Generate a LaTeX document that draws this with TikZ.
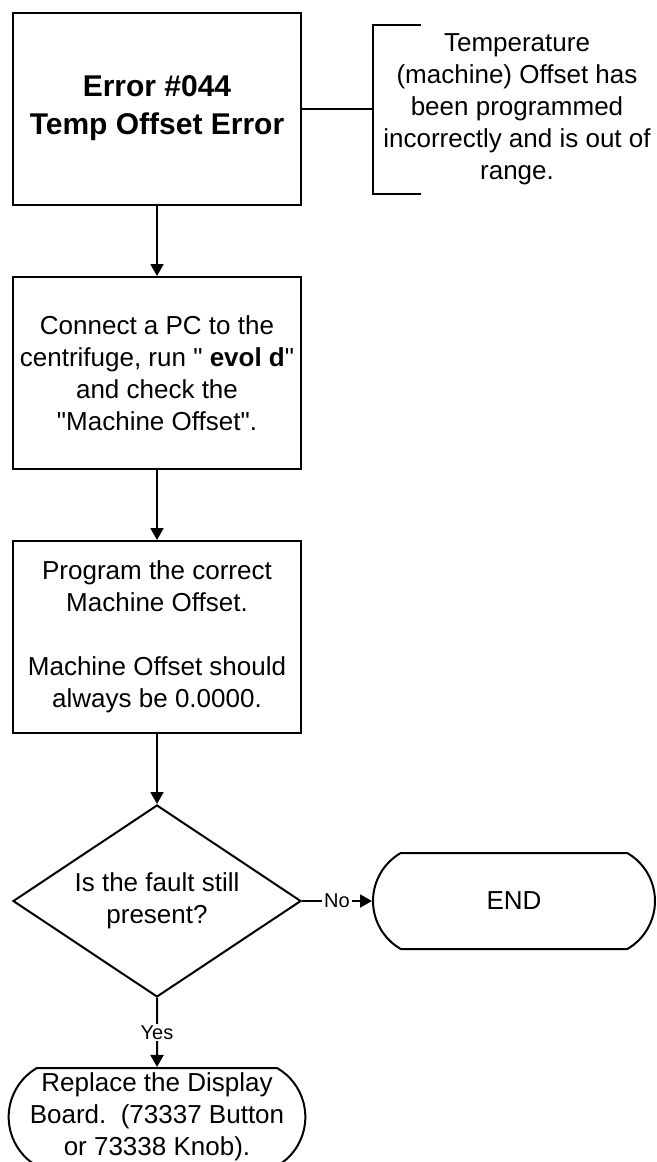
\documentclass[tikz,border=0pt]{standalone}
\usepackage{fontspec}
\setmainfont{Liberation Sans}[Ligatures=TeXOff]
\usetikzlibrary{shapes.geometric,shapes.misc,arrows.meta}
\tikzset{
  stepbox/.style={draw,line width=1pt,rectangle,minimum width=144pt,minimum height=96pt,
    inner sep=0pt,align=center,font=\fontsize{13}{16}\selectfont},
  decision/.style={draw,line width=1pt,diamond,aspect=1.5,minimum width=144pt,minimum height=96pt,
    inner sep=0pt,align=center,font=\fontsize{13}{16}\selectfont},
  terminal/.style={draw,line width=1pt,rounded rectangle,rounded rectangle arc length=120,
    minimum height=48pt,inner sep=0pt,align=center,font=\fontsize{13}{16}\selectfont},
  flow/.style={line width=1pt,-{Triangle[length=6pt,width=6.5pt]}},
  answer/.style={fill=white,inner sep=1pt,font=\fontsize{10}{12}\selectfont},
}

\begin{document}
\begin{tikzpicture}[x=0.5pt,y=-0.5pt]
\useasboundingbox (0,0) rectangle (657,1162);
% main column
\node[stepbox,font=\fontsize{15}{19}\selectfont\bfseries] (title) at (157,108.5) {Error \#044\\Temp Offset Error};
\node[stepbox] (connect) at (157,373) {Connect a PC to the\\centrifuge, run " \textbf{evol d}"\\and check the\\"Machine Offset".};
\node[stepbox] (program) at (157,637) {Program the correct\\Machine Offset.\\[16pt]Machine Offset should\\always be 0.0000.};
\node[decision] (check) at (157,901) {Is the fault still\\present?};
\node[terminal,minimum width=141pt] (done) at (514,901) {END};
\node[terminal,minimum width=144.5pt,minimum height=49pt] (replace) at (157,1117) {Replace the Display\\Board.\ \ (73337 Button\\or 73338 Knob).};
% note on the error
\node[align=center,font=\fontsize{13}{16}\selectfont] (note) at (517,109) {Temperature\\(machine) Offset has\\been programmed\\incorrectly and is out of\\range.};
\coordinate (brk) at (373,108.5);
\draw[line width=1pt] (421,25) -- (373,25) -- (373,194) -- (421,194);
\draw[line width=1pt] (title) -- (brk);
% connectors
\draw[flow] (title) -- (connect);
\draw[flow] (connect) -- (program);
\draw[flow] (program) -- (check);
\draw[flow] (check) -- node[answer] {No} (done);
\draw[flow] (check) -- node[answer] {Yes} (replace);
\end{tikzpicture}
\end{document}
